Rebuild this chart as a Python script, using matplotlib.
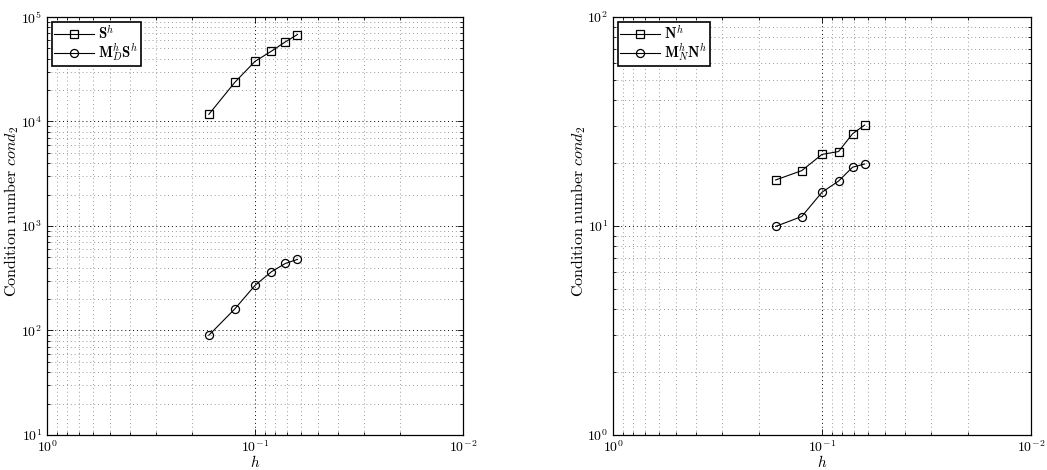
import matplotlib
matplotlib.use("Agg")
import math
import matplotlib.pyplot as plt
from matplotlib.ticker import LogLocator, FuncFormatter, NullFormatter

plt.rcParams['mathtext.fontset'] = 'cm'
plt.rcParams['font.family'] = ['Liberation Sans', 'DejaVu Sans']

h = [1/6, 1/8, 1/10, 1/12, 1/14, 1/16]
cond_S = [11700, 23700, 37600, 47100, 57800, 67900]
cond_MS = [90, 161, 270, 365, 438, 479]
cond_N = [16.6, 18.4, 22.0, 22.7, 27.6, 30.4]
cond_MN = [9.95, 11.1, 14.5, 16.4, 19.1, 19.8]

labels_left = [r'$\mathbf{S}^h$', r'$\mathbf{M}_D^h\mathbf{S}^h$']
labels_right = [r'$\mathbf{N}^h$', r'$\mathbf{M}_N^h\mathbf{N}^h$']

fig = plt.figure(figsize=(10.47, 4.70), dpi=100)
ax1 = fig.add_axes([0.0449, 0.0745, 0.3973, 0.8894])
ax2 = fig.add_axes([0.5855, 0.0745, 0.3992, 0.8894])

def fmt(v, pos):
    e = int(round(math.log10(v)))
    return r'$\mathsf{10}^{\mathsf{%d}}$' % e if e >= 0 else r'$\mathsf{10}^{\mathsf{-%d}}$' % (-e)

def style(ax, ylim, series, labels, labx):
    ax.set_xscale('log')
    ax.set_yscale('log')
    (y1, y2) = series
    ax.plot(h, y1, '-s', color='black', lw=0.8, ms=5.2, mfc='none', mec='black', mew=0.9, label=labels[0])
    ax.plot(h, y2, '-o', color='black', lw=0.8, ms=5.8, mfc='none', mec='black', mew=0.9, label=labels[1])
    ax.set_xlim(1, 0.01)
    ax.set_ylim(*ylim)
    ax.xaxis.set_major_locator(LogLocator(base=10, numticks=10))
    ax.yaxis.set_major_locator(LogLocator(base=10, numticks=10))
    ax.xaxis.set_minor_locator(LogLocator(base=10, subs=range(2, 10), numticks=20))
    ax.yaxis.set_minor_locator(LogLocator(base=10, subs=range(2, 10), numticks=20))
    ax.xaxis.set_major_formatter(FuncFormatter(fmt))
    ax.yaxis.set_major_formatter(FuncFormatter(fmt))
    ax.xaxis.set_minor_formatter(NullFormatter())
    ax.yaxis.set_minor_formatter(NullFormatter())
    ax.grid(True, which='major', ls=(0, (1, 3)), color='black', lw=0.7)
    ax.grid(True, which='minor', ls=(0, (1, 3)), color='#9a9a9a', lw=0.7)
    ax.set_axisbelow(True)
    ax.tick_params(which='both', direction='in', top=True, right=True, labelsize=10, width=0.6)
    ax.tick_params(which='major', length=4)
    ax.tick_params(which='minor', length=2)
    for s in ax.spines.values():
        s.set_linewidth(0.9)
    ax.set_xlabel(r'$h$', fontsize=11, labelpad=-1)
    ax.set_ylabel(r'$\mathrm{Condition\ number}\ cond_2$', fontsize=11.5)
    ax.yaxis.set_label_coords(labx, 0.535)
    leg = ax.legend(loc='upper left', fontsize=10.5, fancybox=False, framealpha=1,
                    edgecolor='black', borderaxespad=0.35, handlelength=2.7,
                    borderpad=0.15, labelspacing=-0.05, handletextpad=0.3)
    leg.get_frame().set_linewidth(1.2)

style(ax1, (10, 1e5), (cond_S, cond_MS), labels_left, -0.062)
style(ax2, (1, 100), (cond_N, cond_MN), labels_right, -0.060)

fig.savefig('out.png', dpi=100)
